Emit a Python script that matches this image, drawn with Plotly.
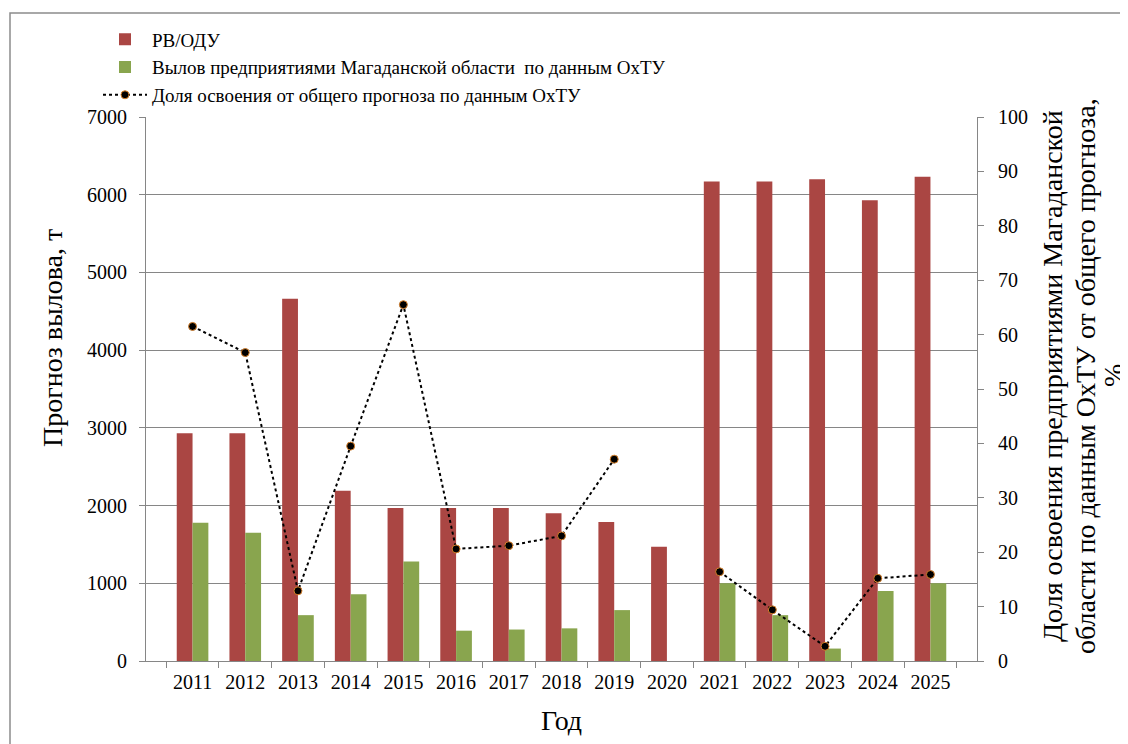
import plotly.graph_objects as go

years = [str(y) for y in range(2011, 2026)]
rv_odu = [2930, 2930, 4660, 2190, 1970, 1970, 1970, 1900, 1790, 1470, 6170, 6170, 6200, 5930, 6230]
catch = [1780, 1650, 590, 860, 1280, 390, 405, 420, 655, None, 1000, 590, 160, 900, 1000]
share = [61.5, 56.7, 12.9, 39.5, 65.5, 20.6, 21.2, 23.0, 37.1, None, 16.4, 9.4, 2.7, 15.2, 15.9]

name_rv = "РВ/ОДУ"
name_catch = "Вылов предприятиями Магаданской области  по данным ОхТУ"
name_share = "Доля освоения от общего прогноза по данным ОхТУ"
y2_title_lines = ["Доля освоения предприятиями Магаданской",
                  "области по данным ОхТУ от общего прогноза,",
                  "%"]

FONT = "Times New Roman"
GRID = "#868686"

OFF = 8
W, H = 1128 - OFF, 744 - OFF
PL, PR, PT, PB = 146, 977, 117, 661
L, R, T, B = PL - OFF, W - (PR - OFF), PT - OFF, H - (PB - OFF)
pw, ph = PR - PL, PB - PT


def px(x):
    return (x - PL) / pw


def py(y):
    return (PB - y) / ph


fig = go.Figure()
fig.add_trace(go.Bar(x=years, y=rv_odu, name=name_rv, marker_color="#AA4643",
                     marker_line_width=0, legendgroup="a"))
fig.add_trace(go.Bar(x=years, y=catch, name=name_catch, marker_color="#89A54E",
                     marker_line_width=0, legendgroup="b"))
fig.add_trace(go.Scatter(x=years, y=share, name=name_share, yaxis="y2",
                         mode="lines+markers", connectgaps=False,
                         line=dict(color="black", dash="dot", width=2),
                         marker=dict(color="black", size=8,
                                     line=dict(color="#D9822B", width=1)),
                         legendgroup="c"))

annotations = [
    dict(text="Прогноз вылова, т", textangle=-90, x=px(52), y=py(338),
         xref="paper", yref="paper", showarrow=False,
         xanchor="center", yanchor="middle", font=dict(size=28, family=FONT)),
]
for line_text, xc in zip(y2_title_lines, [1052, 1085, 1113]):
    annotations.append(dict(text=line_text, textangle=-90, x=px(xc), y=py(376),
                            xref="paper", yref="paper", showarrow=False,
                            xanchor="center", yanchor="middle",
                            font=dict(size=28, family=FONT)))

fig.update_layout(
    width=W, height=H,
    margin=dict(l=L, r=R, t=T, b=B),
    paper_bgcolor="white", plot_bgcolor="white",
    font=dict(family=FONT, color="black", size=20),
    barmode="group", bargap=0.4, bargroupgap=0,
    legend=dict(x=px(98), y=py(20.5), xanchor="left", yanchor="top",
                font=dict(size=19, family=FONT), tracegroupgap=0,
                bgcolor="rgba(0,0,0,0)", itemwidth=44),
    xaxis=dict(type="category", showline=True, linecolor=GRID, linewidth=1,
               ticks="outside", tickson="boundaries", ticklen=6, tickcolor=GRID,
               showgrid=False, tickfont=dict(size=20, family=FONT),
               ticklabelstandoff=3, tickangle=0,
               title=dict(text="Год", font=dict(size=28, family=FONT), standoff=18)),
    yaxis=dict(range=[0, 7000], dtick=1000, showline=True, linecolor=GRID,
               linewidth=1, ticks="outside", ticklen=6, tickcolor=GRID,
               showgrid=True, gridcolor=GRID, gridwidth=1, zeroline=False,
               tickfont=dict(size=20, family=FONT), ticklabelstandoff=8),
    yaxis2=dict(range=[0, 100], dtick=10, overlaying="y", side="right",
                showline=True, linecolor=GRID, linewidth=1, ticks="outside",
                ticklen=6, tickcolor=GRID, showgrid=False, zeroline=False,
                tickfont=dict(size=20, family=FONT), ticklabelstandoff=10),
    annotations=annotations,
    shapes=[
        dict(type="rect", xref="paper", yref="paper",
             x0=px(10), x1=px(1160), y0=py(780), y1=py(13),
             line=dict(color="#8c8c8c", width=1.5), fillcolor="rgba(0,0,0,0)",
             layer="below"),
    ],
)

fig.write_html("out.html")
